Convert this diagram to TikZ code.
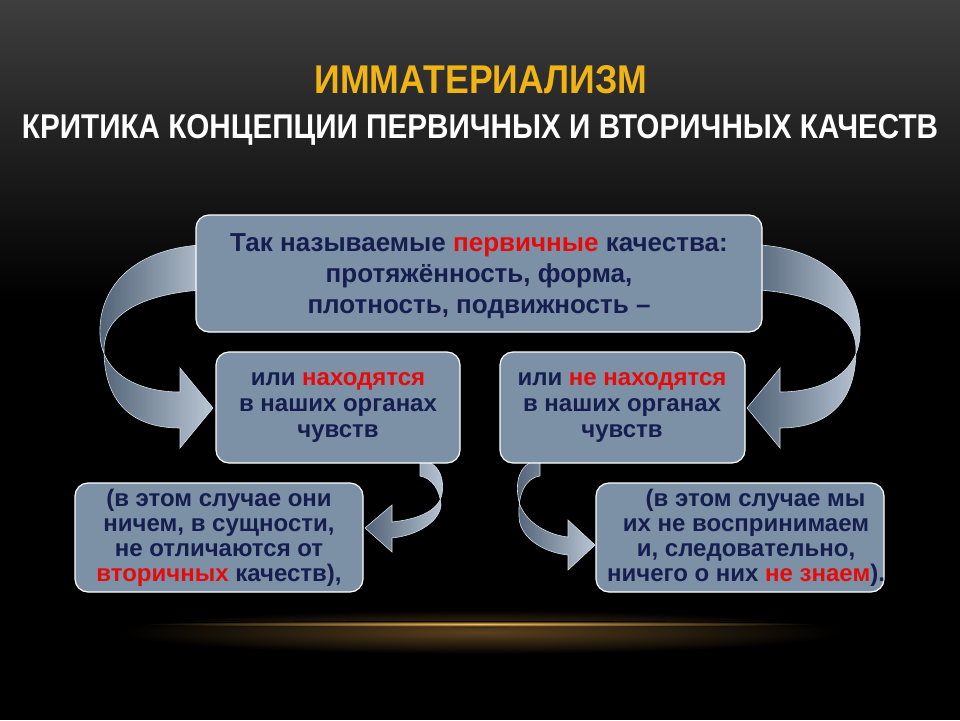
\documentclass[tikz,border=0pt]{standalone}
\usepackage{fontspec}
\setmainfont{Liberation Sans}
\usetikzlibrary{shapes.geometric}
\definecolor{boxfill}{RGB}{124,144,166}
\definecolor{navy}{RGB}{22,30,80}
\definecolor{redw}{RGB}{230,10,10}
\definecolor{gold}{RGB}{240,180,20}
\definecolor{arrA}{RGB}{80,98,118}
\definecolor{arrB}{RGB}{185,198,212}
\tikzset{
 qbox/.style={draw=white,line width=1.2pt,fill=boxfill,rounded corners=13pt},
 qtext/.style={font=\bfseries\fontsize{24}{26}\selectfont,text=navy,align=center},
 ribbon/.style={left color=arrA,right color=arrB,draw=arrB!60!white,line width=0.6pt}
}
\newcommand{\rw}[1]{\textcolor{redw}{#1}}
\begin{document}
\begin{tikzpicture}[x=1pt,y=-1pt]
\useasboundingbox (0,0) rectangle (960,720);
\fill[black] (0,0) rectangle (960,720);
\shade[top color={rgb,255:red,62;green,62;blue,62},bottom color=black] (0,0) rectangle (960,300);
\shade[inner color={rgb,255:red,90;green,65;blue,30},outer color=black] (480,632) ellipse (360 and 22);
\shade[inner color={rgb,255:red,250;green,190;blue,90},outer color=black] (480,624) ellipse (340 and 3);
% title
\node (t1) at (481,80) {\resizebox{333pt}{28pt}{\bfseries\color{gold}ИММАТЕРИАЛИЗМ}};
\node (t2) at (480,130) {\resizebox{916pt}{24pt}{\bfseries\color{white}КРИТИКА КОНЦЕПЦИИ ПЕРВИЧНЫХ И ВТОРИЧНЫХ КАЧЕСТВ}};
% big arrows
\path[ribbon] (200,245) .. controls (130,250) and (98,290) .. (100,335)
  .. controls (102,375) and (140,392) .. (180,392) -- (180,368) -- (213,408) -- (180,448) -- (180,428)
  .. controls (130,428) and (104,400) .. (104,350)
  .. controls (104,315) and (140,295) .. (200,290) -- cycle;
\path[ribbon] (760,245) .. controls (830,250) and (862,290) .. (860,335)
  .. controls (858,375) and (820,392) .. (780,392) -- (780,368) -- (747,408) -- (780,448) -- (780,428)
  .. controls (830,428) and (856,400) .. (856,350)
  .. controls (856,315) and (820,295) .. (760,290) -- cycle;
% small arrows
\path[ribbon] (420,460) .. controls (445,462) and (445,490) .. (440,500)
  .. controls (432,515) and (410,520) .. (392,522) -- (392,505) -- (365,528) -- (392,552) -- (392,538)
  .. controls (420,535) and (440,520) .. (441,505)
  .. controls (440,490) and (432,478) .. (420,476) -- cycle;
\path[ribbon] (540,460) .. controls (515,462) and (515,490) .. (520,505)
  .. controls (528,525) and (550,535) .. (568,537) -- (568,520) -- (595,545) -- (568,570) -- (568,555)
  .. controls (540,552) and (518,535) .. (519,515)
  .. controls (518,495) and (525,478) .. (540,476) -- cycle;
% boxes
\draw[qbox] (196,215) rectangle (762,332);
\node[qtext,font=\bfseries\fontsize{26}{31}\selectfont] (top) at (479,276) {Так называемые \rw{первичные} качества:\\протяжённость, форма,\\плотность, подвижность –};
\draw[qbox] (216,352) rectangle (460,463);
\node[qtext] (ml) at (338,408) {или \rw{находятся}\\в наших органах\\чувств};
\draw[qbox] (500,352) rectangle (745,463);
\node[qtext] (mr) at (622,408) {или \rw{не находятся}\\в наших органах\\чувств};
\draw[qbox] (75,483) rectangle (363,592);
\node[qtext,font=\bfseries\fontsize{24}{25}\selectfont] (bl) at (219,538) {(в этом случае они\\ничем, в сущности,\\не отличаются от\\\rw{вторичных} качеств),};
\draw[qbox] (596,483) rectangle (884,592);
\node[qtext,font=\bfseries\fontsize{24}{25}\selectfont] (br) at (746,538) {\hspace*{0.8em}(в этом случае мы\\их не воспринимаем\\и, следовательно,\\ничего о них \rw{не знаем}).};
\end{tikzpicture}
\end{document}
